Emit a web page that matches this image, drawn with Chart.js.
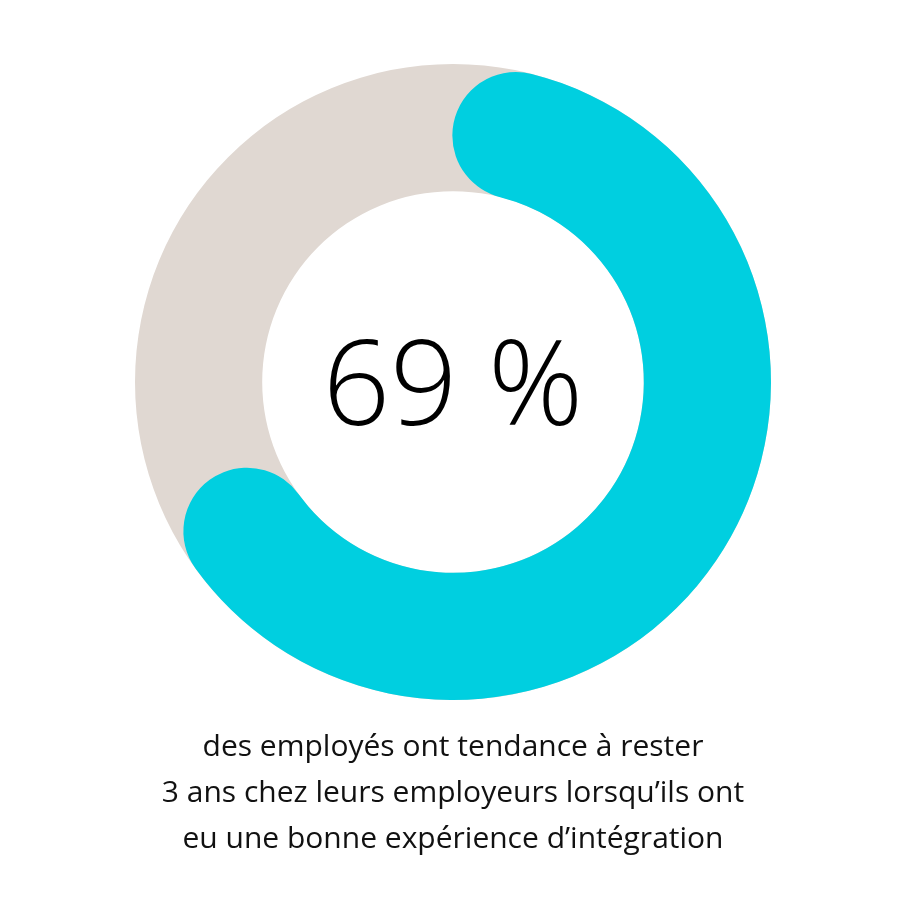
<!DOCTYPE html>
<html>
<head>
<meta charset="utf-8">
<script src="https://cdn.jsdelivr.net/npm/chart.js@4"></script>
<style>
  body { margin: 0; background: #fff; }
  .wrap { position: relative; width: 906px; height: 906px; }
  .center { position: absolute; left: 0; width: 906px; top: 310px; text-align: center;
            font-family: "Open Sans", sans-serif; font-weight: 300; font-size: 118px; line-height: 140px; color: #000; }
  .caption { position: absolute; left: 0; width: 906px; top: 722px; text-align: center;
             font-family: "Open Sans", sans-serif; font-size: 30px; line-height: 46px; color: #111; }
</style>
</head>
<body>
<div class="wrap">
  <canvas id="donut" width="906" height="906"></canvas>
  <div class="center">69 %</div>
  <div class="caption">des employés ont tendance à rester<br>3 ans chez leurs employeurs lorsqu’ils ont<br>eu une bonne expérience d’intégration</div>
</div>
<script>
const labels = ['Restent 3 ans', 'Autres']
const values = [69, 31]
const cyan = '#00cfe0'
const grey = '#e0d8d2'

// full grey ring behind the cyan arc
const ringBg = {
  id: 'ringBg',
  beforeDatasetsDraw(chart) {
    const arc = chart.getDatasetMeta(0).data[0]
    if (!arc) return
    const ctx = chart.ctx
    ctx.save()
    ctx.beginPath()
    ctx.arc(arc.x, arc.y, arc.outerRadius, 0, Math.PI * 2)
    ctx.arc(arc.x, arc.y, arc.innerRadius, 0, Math.PI * 2, true)
    ctx.fillStyle = grey
    ctx.fill('evenodd')
    ctx.restore()
  }
}

new Chart(document.getElementById('donut'), {
  type: 'doughnut',
  data: {
    labels: labels,
    datasets: [{
      data: values,
      backgroundColor: [cyan, 'rgba(0,0,0,0)'],
      borderWidth: 0,
      borderRadius: [64, 0]
    }]
  },
  options: {
    responsive: false,
    animation: false,
    cutout: '60%',
    layout: { padding: { top: 64, bottom: 206, left: 135, right: 135 } },
    plugins: { legend: { display: false }, tooltip: { enabled: false } }
  },
  plugins: [ringBg]
})
</script>
</body>
</html>
